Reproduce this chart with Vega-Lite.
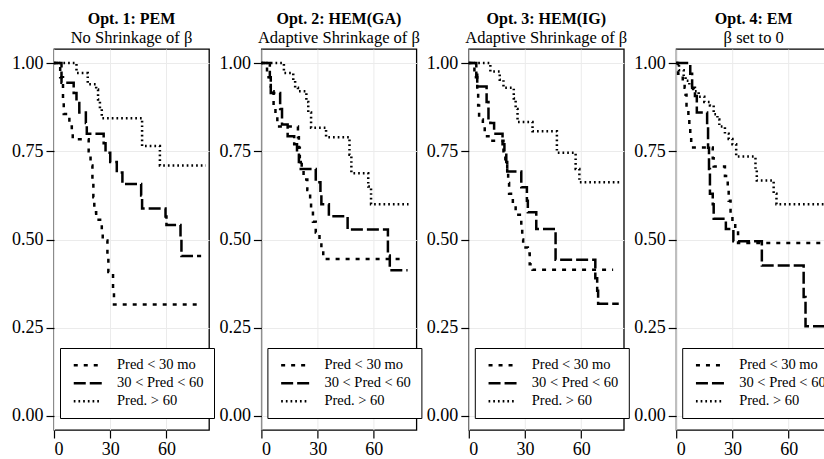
{
  "$schema": "https://vega.github.io/schema/vega-lite/v6.json",
  "bounds": "flush",
  "spacing": 52.4,
  "padding": {"left": 10, "top": 9, "right": 0, "bottom": 0},
  "datasets": {
    "km": [
      {"p":1,"g":"Pred < 30 mo","t":0,"s":1},{"p":1,"g":"Pred < 30 mo","t":3.3,"s":0.96},{"p":1,"g":"Pred < 30 mo","t":4.8,"s":0.9},{"p":1,"g":"Pred < 30 mo","t":5.2,"s":0.856},{"p":1,"g":"Pred < 30 mo","t":8.2,"s":0.82},{"p":1,"g":"Pred < 30 mo","t":9.5,"s":0.8},{"p":1,"g":"Pred < 30 mo","t":10,"s":0.784},{"p":1,"g":"Pred < 30 mo","t":18.5,"s":0.75},{"p":1,"g":"Pred < 30 mo","t":19.5,"s":0.71},{"p":1,"g":"Pred < 30 mo","t":20.5,"s":0.66},{"p":1,"g":"Pred < 30 mo","t":21,"s":0.62},{"p":1,"g":"Pred < 30 mo","t":21.5,"s":0.577},{"p":1,"g":"Pred < 30 mo","t":22.5,"s":0.556},{"p":1,"g":"Pred < 30 mo","t":25.5,"s":0.52},{"p":1,"g":"Pred < 30 mo","t":26,"s":0.497},{"p":1,"g":"Pred < 30 mo","t":28.5,"s":0.45},{"p":1,"g":"Pred < 30 mo","t":29,"s":0.408},{"p":1,"g":"Pred < 30 mo","t":31.5,"s":0.36},{"p":1,"g":"Pred < 30 mo","t":32,"s":0.316},{"p":1,"g":"Pred < 30 mo","t":78.5,"s":0.316},
      {"p":1,"g":"30 < Pred < 60","t":0,"s":1},{"p":1,"g":"30 < Pred < 60","t":4,"s":0.944},{"p":1,"g":"30 < Pred < 60","t":10.5,"s":0.915},{"p":1,"g":"30 < Pred < 60","t":12,"s":0.887},{"p":1,"g":"30 < Pred < 60","t":13.5,"s":0.86},{"p":1,"g":"30 < Pred < 60","t":17,"s":0.83},{"p":1,"g":"30 < Pred < 60","t":17.5,"s":0.8},{"p":1,"g":"30 < Pred < 60","t":26.5,"s":0.773},{"p":1,"g":"30 < Pred < 60","t":27.5,"s":0.746},{"p":1,"g":"30 < Pred < 60","t":30,"s":0.72},{"p":1,"g":"30 < Pred < 60","t":33.5,"s":0.69},{"p":1,"g":"30 < Pred < 60","t":36.5,"s":0.657},{"p":1,"g":"30 < Pred < 60","t":46.5,"s":0.625},{"p":1,"g":"30 < Pred < 60","t":47,"s":0.588},{"p":1,"g":"30 < Pred < 60","t":59.5,"s":0.565},{"p":1,"g":"30 < Pred < 60","t":60,"s":0.541},{"p":1,"g":"30 < Pred < 60","t":67.5,"s":0.5},{"p":1,"g":"30 < Pred < 60","t":68,"s":0.453},{"p":1,"g":"30 < Pred < 60","t":78.5,"s":0.453},
      {"p":1,"g":"Pred. > 60","t":0,"s":1},{"p":1,"g":"Pred. > 60","t":12,"s":0.972},{"p":1,"g":"Pred. > 60","t":18,"s":0.94},{"p":1,"g":"Pred. > 60","t":22.5,"s":0.925},{"p":1,"g":"Pred. > 60","t":23.5,"s":0.897},{"p":1,"g":"Pred. > 60","t":24.5,"s":0.87},{"p":1,"g":"Pred. > 60","t":25.5,"s":0.844},{"p":1,"g":"Pred. > 60","t":47,"s":0.765},{"p":1,"g":"Pred. > 60","t":56.5,"s":0.71},{"p":1,"g":"Pred. > 60","t":81,"s":0.71},

      {"p":2,"g":"Pred < 30 mo","t":0,"s":1},{"p":2,"g":"Pred < 30 mo","t":3,"s":0.96},{"p":2,"g":"Pred < 30 mo","t":5,"s":0.92},{"p":2,"g":"Pred < 30 mo","t":6.5,"s":0.88},{"p":2,"g":"Pred < 30 mo","t":7.5,"s":0.85},{"p":2,"g":"Pred < 30 mo","t":8.5,"s":0.82},{"p":2,"g":"Pred < 30 mo","t":19.5,"s":0.79},{"p":2,"g":"Pred < 30 mo","t":20,"s":0.76},{"p":2,"g":"Pred < 30 mo","t":20.5,"s":0.73},{"p":2,"g":"Pred < 30 mo","t":21.5,"s":0.7},{"p":2,"g":"Pred < 30 mo","t":22.5,"s":0.67},{"p":2,"g":"Pred < 30 mo","t":24.5,"s":0.64},{"p":2,"g":"Pred < 30 mo","t":26,"s":0.61},{"p":2,"g":"Pred < 30 mo","t":26.5,"s":0.58},{"p":2,"g":"Pred < 30 mo","t":27.5,"s":0.55},{"p":2,"g":"Pred < 30 mo","t":29,"s":0.52},{"p":2,"g":"Pred < 30 mo","t":31,"s":0.5},{"p":2,"g":"Pred < 30 mo","t":32,"s":0.47},{"p":2,"g":"Pred < 30 mo","t":33,"s":0.445},{"p":2,"g":"Pred < 30 mo","t":76.5,"s":0.445},
      {"p":2,"g":"30 < Pred < 60","t":0,"s":1},{"p":2,"g":"30 < Pred < 60","t":4.5,"s":0.96},{"p":2,"g":"30 < Pred < 60","t":5,"s":0.915},{"p":2,"g":"30 < Pred < 60","t":10,"s":0.87},{"p":2,"g":"30 < Pred < 60","t":11,"s":0.826},{"p":2,"g":"30 < Pred < 60","t":14,"s":0.793},{"p":2,"g":"30 < Pred < 60","t":17.5,"s":0.77},{"p":2,"g":"30 < Pred < 60","t":19,"s":0.74},{"p":2,"g":"30 < Pred < 60","t":20,"s":0.72},{"p":2,"g":"30 < Pred < 60","t":21,"s":0.7},{"p":2,"g":"30 < Pred < 60","t":29,"s":0.662},{"p":2,"g":"30 < Pred < 60","t":31.5,"s":0.63},{"p":2,"g":"30 < Pred < 60","t":32,"s":0.6},{"p":2,"g":"30 < Pred < 60","t":36,"s":0.566},{"p":2,"g":"30 < Pred < 60","t":46,"s":0.528},{"p":2,"g":"30 < Pred < 60","t":67.5,"s":0.455},{"p":2,"g":"30 < Pred < 60","t":68.5,"s":0.413},{"p":2,"g":"30 < Pred < 60","t":78,"s":0.413},
      {"p":2,"g":"Pred. > 60","t":0,"s":1},{"p":2,"g":"Pred. > 60","t":12,"s":0.972},{"p":2,"g":"Pred. > 60","t":17,"s":0.95},{"p":2,"g":"Pred. > 60","t":18,"s":0.93},{"p":2,"g":"Pred. > 60","t":19.5,"s":0.92},{"p":2,"g":"Pred. > 60","t":24,"s":0.89},{"p":2,"g":"Pred. > 60","t":25,"s":0.86},{"p":2,"g":"Pred. > 60","t":26.5,"s":0.817},{"p":2,"g":"Pred. > 60","t":34.5,"s":0.79},{"p":2,"g":"Pred. > 60","t":47,"s":0.74},{"p":2,"g":"Pred. > 60","t":48,"s":0.688},{"p":2,"g":"Pred. > 60","t":57,"s":0.65},{"p":2,"g":"Pred. > 60","t":58.5,"s":0.6},{"p":2,"g":"Pred. > 60","t":78.5,"s":0.6},

      {"p":3,"g":"Pred < 30 mo","t":0,"s":1},{"p":3,"g":"Pred < 30 mo","t":3,"s":0.96},{"p":3,"g":"Pred < 30 mo","t":4.5,"s":0.92},{"p":3,"g":"Pred < 30 mo","t":5,"s":0.88},{"p":3,"g":"Pred < 30 mo","t":5.5,"s":0.84},{"p":3,"g":"Pred < 30 mo","t":7.5,"s":0.826},{"p":3,"g":"Pred < 30 mo","t":8.5,"s":0.793},{"p":3,"g":"Pred < 30 mo","t":10.5,"s":0.78},{"p":3,"g":"Pred < 30 mo","t":18.5,"s":0.75},{"p":3,"g":"Pred < 30 mo","t":19.5,"s":0.72},{"p":3,"g":"Pred < 30 mo","t":20.5,"s":0.69},{"p":3,"g":"Pred < 30 mo","t":21,"s":0.66},{"p":3,"g":"Pred < 30 mo","t":21.5,"s":0.63},{"p":3,"g":"Pred < 30 mo","t":23.5,"s":0.6},{"p":3,"g":"Pred < 30 mo","t":25,"s":0.57},{"p":3,"g":"Pred < 30 mo","t":28,"s":0.53},{"p":3,"g":"Pred < 30 mo","t":28.5,"s":0.5},{"p":3,"g":"Pred < 30 mo","t":29,"s":0.477},{"p":3,"g":"Pred < 30 mo","t":31.5,"s":0.46},{"p":3,"g":"Pred < 30 mo","t":32.5,"s":0.43},{"p":3,"g":"Pred < 30 mo","t":34,"s":0.414},{"p":3,"g":"Pred < 30 mo","t":77,"s":0.414},
      {"p":3,"g":"30 < Pred < 60","t":0,"s":1},{"p":3,"g":"30 < Pred < 60","t":4,"s":0.967},{"p":3,"g":"30 < Pred < 60","t":4.5,"s":0.934},{"p":3,"g":"30 < Pred < 60","t":9.5,"s":0.89},{"p":3,"g":"30 < Pred < 60","t":10.5,"s":0.84},{"p":3,"g":"30 < Pred < 60","t":11.5,"s":0.83},{"p":3,"g":"30 < Pred < 60","t":13.5,"s":0.8},{"p":3,"g":"30 < Pred < 60","t":18,"s":0.77},{"p":3,"g":"30 < Pred < 60","t":19,"s":0.74},{"p":3,"g":"30 < Pred < 60","t":20,"s":0.72},{"p":3,"g":"30 < Pred < 60","t":20.5,"s":0.693},{"p":3,"g":"30 < Pred < 60","t":28,"s":0.648},{"p":3,"g":"30 < Pred < 60","t":31,"s":0.61},{"p":3,"g":"30 < Pred < 60","t":31.5,"s":0.577},{"p":3,"g":"30 < Pred < 60","t":36,"s":0.53},{"p":3,"g":"30 < Pred < 60","t":46.3,"s":0.4425},{"p":3,"g":"30 < Pred < 60","t":67.5,"s":0.39},{"p":3,"g":"30 < Pred < 60","t":68.5,"s":0.355},{"p":3,"g":"30 < Pred < 60","t":69,"s":0.318},{"p":3,"g":"30 < Pred < 60","t":80,"s":0.318},
      {"p":3,"g":"Pred. > 60","t":0,"s":1},{"p":3,"g":"Pred. > 60","t":11.5,"s":0.976},{"p":3,"g":"Pred. > 60","t":16.5,"s":0.953},{"p":3,"g":"Pred. > 60","t":18.5,"s":0.93},{"p":3,"g":"Pred. > 60","t":24,"s":0.9},{"p":3,"g":"Pred. > 60","t":25,"s":0.87},{"p":3,"g":"Pred. > 60","t":26,"s":0.833},{"p":3,"g":"Pred. > 60","t":34,"s":0.807},{"p":3,"g":"Pred. > 60","t":47,"s":0.746},{"p":3,"g":"Pred. > 60","t":57,"s":0.7},{"p":3,"g":"Pred. > 60","t":59,"s":0.662},{"p":3,"g":"Pred. > 60","t":80.5,"s":0.662},

      {"p":4,"g":"Pred < 30 mo","t":0,"s":1},{"p":4,"g":"Pred < 30 mo","t":1,"s":0.97},{"p":4,"g":"Pred < 30 mo","t":3.5,"s":0.95},{"p":4,"g":"Pred < 30 mo","t":4.5,"s":0.93},{"p":4,"g":"Pred < 30 mo","t":5,"s":0.91},{"p":4,"g":"Pred < 30 mo","t":5.5,"s":0.87},{"p":4,"g":"Pred < 30 mo","t":6.5,"s":0.85},{"p":4,"g":"Pred < 30 mo","t":7,"s":0.82},{"p":4,"g":"Pred < 30 mo","t":7.5,"s":0.79},{"p":4,"g":"Pred < 30 mo","t":8,"s":0.761},{"p":4,"g":"Pred < 30 mo","t":19.5,"s":0.73},{"p":4,"g":"Pred < 30 mo","t":20,"s":0.707},{"p":4,"g":"Pred < 30 mo","t":26,"s":0.68},{"p":4,"g":"Pred < 30 mo","t":27.5,"s":0.65},{"p":4,"g":"Pred < 30 mo","t":28,"s":0.61},{"p":4,"g":"Pred < 30 mo","t":29,"s":0.57},{"p":4,"g":"Pred < 30 mo","t":30,"s":0.55},{"p":4,"g":"Pred < 30 mo","t":31.5,"s":0.525},{"p":4,"g":"Pred < 30 mo","t":33,"s":0.49},{"p":4,"g":"Pred < 30 mo","t":80,"s":0.49},
      {"p":4,"g":"30 < Pred < 60","t":0,"s":1},{"p":4,"g":"30 < Pred < 60","t":7.5,"s":0.97},{"p":4,"g":"30 < Pred < 60","t":8.5,"s":0.93},{"p":4,"g":"30 < Pred < 60","t":10,"s":0.907},{"p":4,"g":"30 < Pred < 60","t":11,"s":0.86},{"p":4,"g":"30 < Pred < 60","t":16.5,"s":0.82},{"p":4,"g":"30 < Pred < 60","t":17,"s":0.76},{"p":4,"g":"30 < Pred < 60","t":17.5,"s":0.7},{"p":4,"g":"30 < Pred < 60","t":18,"s":0.63},{"p":4,"g":"30 < Pred < 60","t":19.5,"s":0.6},{"p":4,"g":"30 < Pred < 60","t":20,"s":0.559},{"p":4,"g":"30 < Pred < 60","t":26.5,"s":0.53},{"p":4,"g":"30 < Pred < 60","t":30.5,"s":0.495},{"p":4,"g":"30 < Pred < 60","t":45.7,"s":0.426},{"p":4,"g":"30 < Pred < 60","t":68,"s":0.337},{"p":4,"g":"30 < Pred < 60","t":69,"s":0.254},{"p":4,"g":"30 < Pred < 60","t":80,"s":0.254},
      {"p":4,"g":"Pred. > 60","t":0,"s":1},{"p":4,"g":"Pred. > 60","t":1.5,"s":0.98},{"p":4,"g":"Pred. > 60","t":4,"s":0.96},{"p":4,"g":"Pred. > 60","t":5,"s":0.95},{"p":4,"g":"Pred. > 60","t":7,"s":0.935},{"p":4,"g":"Pred. > 60","t":9,"s":0.92},{"p":4,"g":"Pred. > 60","t":12,"s":0.905},{"p":4,"g":"Pred. > 60","t":15,"s":0.89},{"p":4,"g":"Pred. > 60","t":18,"s":0.88},{"p":4,"g":"Pred. > 60","t":20,"s":0.855},{"p":4,"g":"Pred. > 60","t":22,"s":0.84},{"p":4,"g":"Pred. > 60","t":23,"s":0.82},{"p":4,"g":"Pred. > 60","t":26,"s":0.8},{"p":4,"g":"Pred. > 60","t":28,"s":0.785},{"p":4,"g":"Pred. > 60","t":30,"s":0.77},{"p":4,"g":"Pred. > 60","t":32,"s":0.735},{"p":4,"g":"Pred. > 60","t":42.3,"s":0.7},{"p":4,"g":"Pred. > 60","t":43,"s":0.667},{"p":4,"g":"Pred. > 60","t":52,"s":0.63},{"p":4,"g":"Pred. > 60","t":53.5,"s":0.6},{"p":4,"g":"Pred. > 60","t":80,"s":0.6}
    ]
  },
  "hconcat": [
    {
      "width": 155, "height": 381,
      "data": {"name": "km"},
      "transform": [{"filter": "datum.p == 1"}],
      "title": {"text": "Opt. 1: PEM", "subtitle": "No Shrinkage of β"},
      "mark": {"type": "line", "interpolate": "step-after", "color": "black", "strokeWidth": 2.5},
      "encoding": {
        "x": {"field": "t", "type": "quantitative", "scale": {"domain": [0, 82.7], "nice": false, "zero": false}, "axis": {"values": [0, 30, 60], "title": null}},
        "y": {"field": "s", "type": "quantitative", "scale": {"domain": [-0.04, 1.04], "nice": false}, "axis": {"values": [0, 0.25, 0.5, 0.75, 1], "format": ".2f", "title": null}},
        "strokeDash": {"field": "g", "type": "nominal", "scale": {"domain": ["Pred < 30 mo", "30 < Pred < 60", "Pred. > 60"], "range": [[4, 6], [12, 4], [1.7, 3]]}, "legend": {"title": null, "orient": "none", "legendX": 6, "legendY": 299}}
      }
    },
    {
      "width": 155, "height": 381,
      "data": {"name": "km"},
      "transform": [{"filter": "datum.p == 2"}],
      "title": {"text": "Opt. 2: HEM(GA)", "subtitle": "Adaptive Shrinkage of β"},
      "mark": {"type": "line", "interpolate": "step-after", "color": "black", "strokeWidth": 2.5},
      "encoding": {
        "x": {"field": "t", "type": "quantitative", "scale": {"domain": [0, 82.7], "nice": false, "zero": false}, "axis": {"values": [0, 30, 60], "title": null}},
        "y": {"field": "s", "type": "quantitative", "scale": {"domain": [-0.04, 1.04], "nice": false}, "axis": {"values": [0, 0.25, 0.5, 0.75, 1], "format": ".2f", "title": null}},
        "strokeDash": {"field": "g", "type": "nominal", "scale": {"domain": ["Pred < 30 mo", "30 < Pred < 60", "Pred. > 60"], "range": [[4, 6], [12, 4], [1.7, 3]]}, "legend": {"title": null, "orient": "none", "legendX": 6, "legendY": 299}}
      }
    },
    {
      "width": 155, "height": 381,
      "data": {"name": "km"},
      "transform": [{"filter": "datum.p == 3"}],
      "title": {"text": "Opt. 3: HEM(IG)", "subtitle": "Adaptive Shrinkage of β"},
      "mark": {"type": "line", "interpolate": "step-after", "color": "black", "strokeWidth": 2.5},
      "encoding": {
        "x": {"field": "t", "type": "quantitative", "scale": {"domain": [0, 82.7], "nice": false, "zero": false}, "axis": {"values": [0, 30, 60], "title": null}},
        "y": {"field": "s", "type": "quantitative", "scale": {"domain": [-0.04, 1.04], "nice": false}, "axis": {"values": [0, 0.25, 0.5, 0.75, 1], "format": ".2f", "title": null}},
        "strokeDash": {"field": "g", "type": "nominal", "scale": {"domain": ["Pred < 30 mo", "30 < Pred < 60", "Pred. > 60"], "range": [[4, 6], [12, 4], [1.7, 3]]}, "legend": {"title": null, "orient": "none", "legendX": 6, "legendY": 299}}
      }
    },
    {
      "width": 155, "height": 381,
      "data": {"name": "km"},
      "transform": [{"filter": "datum.p == 4"}],
      "title": {"text": "Opt. 4: EM", "subtitle": "β set to 0"},
      "mark": {"type": "line", "interpolate": "step-after", "color": "black", "strokeWidth": 2.5},
      "encoding": {
        "x": {"field": "t", "type": "quantitative", "scale": {"domain": [0, 82.7], "nice": false, "zero": false}, "axis": {"values": [0, 30, 60], "title": null}},
        "y": {"field": "s", "type": "quantitative", "scale": {"domain": [-0.04, 1.04], "nice": false}, "axis": {"values": [0, 0.25, 0.5, 0.75, 1], "format": ".2f", "title": null}},
        "strokeDash": {"field": "g", "type": "nominal", "scale": {"domain": ["Pred < 30 mo", "30 < Pred < 60", "Pred. > 60"], "range": [[4, 6], [12, 4], [1.7, 3]]}, "legend": {"title": null, "orient": "none", "legendX": 6, "legendY": 299}}
      }
    }
  ],
  "resolve": {"legend": {"strokeDash": "independent"}},
  "config": {
    "font": "Liberation Serif",
    "view": {"stroke": "black", "strokeWidth": 1.3},
    "axis": {"domain": false, "tickColor": "black", "tickSize": 8, "tickWidth": 1.2, "labelFont": "Liberation Serif", "labelFontSize": 18, "labelColor": "black", "labelPadding": 3, "gridColor": "#ebebeb", "gridWidth": 1},
    "axisX": {"labelPadding": 2},
    "title": {"font": "Liberation Serif", "fontSize": 16, "fontWeight": "bold", "color": "black", "subtitleFont": "Liberation Serif", "subtitleFontSize": 16.5, "subtitleColor": "black", "anchor": "middle", "frame": "group", "offset": 3, "subtitlePadding": 3},
    "legend": {"labelFont": "Liberation Serif", "labelFontSize": 14.5, "labelColor": "black", "strokeColor": "black", "fillColor": "white", "padding": 10, "rowPadding": 3, "symbolType": "M-3.5,0H3.5", "symbolSize": 64, "symbolOffset": 10.5, "labelOffset": 22, "symbolStrokeWidth": 2.5, "symbolStrokeColor": "black"}
  }
}
